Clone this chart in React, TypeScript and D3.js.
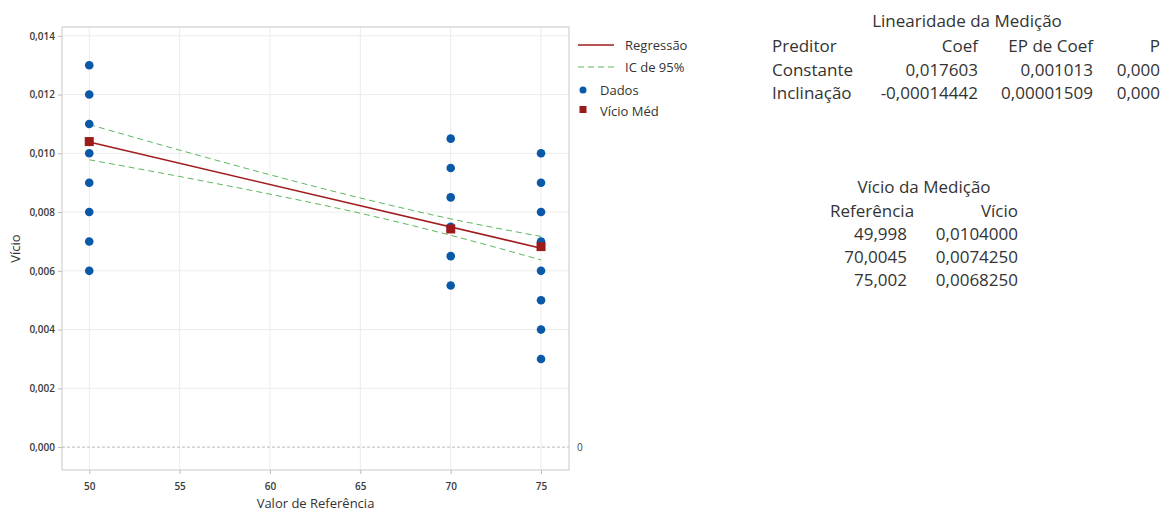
import React, { useEffect, useRef } from 'react';
import * as d3 from 'd3';

// data
const refValues = [49.998, 70.0045, 75.002];
const bias50 = [0.013, 0.012, 0.011, 0.010, 0.009, 0.008, 0.007, 0.006];
const bias70 = [0.0105, 0.0095, 0.0085, 0.0075, 0.0065, 0.0055];
const bias75 = [0.010, 0.009, 0.008, 0.007, 0.006, 0.005, 0.004, 0.003];
const meanBias = [0.0104, 0.007425, 0.006825];
const coefConst = 0.017603;
const coefSlope = -0.00014442;
const ciX = [50, 55, 60, 65, 70, 75];
const ciUpper = [0.01098, 0.01011, 0.00927, 0.00848, 0.00777, 0.00717];
const ciLower = [0.00978, 0.00921, 0.00861, 0.00796, 0.00721, 0.00637];
const xTicks = [50, 55, 60, 65, 70, 75];
const yTicks = [0, 0.002, 0.004, 0.006, 0.008, 0.010, 0.012, 0.014];

const linHeader = ['Preditor', 'Coef', 'EP de Coef', 'P'];
const linRows = [
  ['Constante', '0,017603', '0,001013', '0,000'],
  ['Inclinação', '-0,00014442', '0,00001509', '0,000'],
];
const biasHeader = ['Referência', 'Vício'];
const biasRows = [
  ['49,998', '0,0104000'],
  ['70,0045', '0,0074250'],
  ['75,002', '0,0068250'],
];

const FONT = '"Open Sans", "Noto Sans", sans-serif';

export default function App() {
  const ref = useRef<SVGSVGElement>(null);

  useEffect(() => {
    document.body.style.margin = '0';
    const svg = d3.select(ref.current);
    svg.selectAll('*').remove();

    const locale = d3.formatLocale({ decimal: ',', thousands: '.', grouping: [3], currency: ['', ''] });
    const fmtY = locale.format('.3f');

    // plot frame
    const left = 62, right = 569, top = 27, bottom = 470;

    const x = d3.scaleLinear().domain([48.49, 76.55]).range([left, right]);
    const y = d3.scaleLinear().domain([-0.00078, 0.0143]).range([bottom, top]);

    const graph = svg.append('g');

    // grid
    graph.selectAll('.vgrid').data(xTicks).enter().append('line')
      .attr('x1', d => x(d)).attr('x2', d => x(d))
      .attr('y1', top).attr('y2', bottom)
      .attr('stroke', '#ececec').attr('stroke-width', 1);
    graph.selectAll('.hgrid').data(yTicks.filter(d => d > 0)).enter().append('line')
      .attr('x1', left).attr('x2', right)
      .attr('y1', d => y(d)).attr('y2', d => y(d))
      .attr('stroke', '#ececec').attr('stroke-width', 1);

    // zero reference line
    graph.append('line')
      .attr('x1', left).attr('x2', right)
      .attr('y1', y(0)).attr('y2', y(0))
      .attr('stroke', '#b8b8b8').attr('stroke-dasharray', '3,2');
    graph.append('text')
      .attr('x', right + 8).attr('y', y(0) + 3.5)
      .attr('font-family', FONT).attr('font-size', 10).attr('fill', '#444')
      .text('0');

    // frame
    graph.append('rect')
      .attr('x', left).attr('y', top)
      .attr('width', right - left).attr('height', bottom - top)
      .attr('fill', 'none').attr('stroke', '#c8c8c8');

    // axes
    const xAxis = d3.axisBottom(x).tickValues(xTicks).tickSize(4).tickFormat(d3.format('d'));
    const yAxis = d3.axisLeft(y).tickValues(yTicks).tickSize(4).tickFormat(d => fmtY(d as number));
    const xg = graph.append('g').attr('transform', `translate(0,${bottom})`).call(xAxis);
    const yg = graph.append('g').attr('transform', `translate(${left},0)`).call(yAxis);
    [xg, yg].forEach(g => {
      g.select('.domain').remove();
      g.selectAll('line').attr('stroke', '#bbb');
      g.selectAll('text')
        .attr('font-family', FONT).attr('font-size', 10).attr('font-weight', 600).attr('fill', '#3a3a3a');
    });
    xg.selectAll('text').attr('dy', '1.3em');

    svg.append('text')
      .attr('x', (left + right) / 2).attr('y', 508)
      .attr('text-anchor', 'middle')
      .attr('font-family', FONT).attr('font-size', 13).attr('fill', '#333')
      .text('Valor de Referência');
    svg.append('text')
      .attr('transform', `translate(20,${(top + bottom) / 2}) rotate(-90)`)
      .attr('text-anchor', 'middle')
      .attr('font-family', FONT).attr('font-size', 13).attr('fill', '#333')
      .text('Vício');

    // CI dashed lines
    const ciLine = d3.line<number>().x((d, i) => x(ciX[i])).y(d => y(d)).curve(d3.curveMonotoneX);
    [ciUpper, ciLower].forEach(arr => {
      graph.append('path').attr('d', ciLine(arr))
        .attr('fill', 'none').attr('stroke', '#5cb85c').attr('stroke-width', 1)
        .attr('stroke-dasharray', '6,4');
    });

    // regression
    const x0 = refValues[0], x1 = refValues[refValues.length - 1];
    graph.append('line')
      .attr('x1', x(x0)).attr('y1', y(coefConst + coefSlope * x0))
      .attr('x2', x(x1)).attr('y2', y(coefConst + coefSlope * x1))
      .attr('stroke', '#a11d1d').attr('stroke-width', 1.6);

    // points
    const pts: [number, number][] = [];
    bias50.forEach(v => pts.push([refValues[0], v]));
    bias70.forEach(v => pts.push([refValues[1], v]));
    bias75.forEach(v => pts.push([refValues[2], v]));
    graph.selectAll('circle').data(pts).enter().append('circle')
      .attr('cx', d => x(d[0])).attr('cy', d => y(d[1]))
      .attr('r', 4.3).attr('fill', '#0a58a8');

    // mean bias squares
    graph.selectAll('.mean').data(meanBias).enter().append('rect')
      .attr('x', (d, i) => x(refValues[i]) - 4.5)
      .attr('y', d => y(d) - 4.5)
      .attr('width', 9).attr('height', 9).attr('fill', '#9c1a1a');

    // legend
    const lg = svg.append('g').attr('font-family', FONT).attr('font-size', 13).attr('fill', '#333');
    lg.append('line').attr('x1', 578).attr('x2', 614).attr('y1', 45).attr('y2', 45)
      .attr('stroke', '#a11d1d').attr('stroke-width', 1.6);
    lg.append('text').attr('x', 625).attr('y', 50).text('Regressão');
    lg.append('line').attr('x1', 578).attr('x2', 614).attr('y1', 67).attr('y2', 67)
      .attr('stroke', '#5cb85c').attr('stroke-dasharray', '6,4');
    lg.append('text').attr('x', 625).attr('y', 72).text('IC de 95%');
    lg.append('circle').attr('cx', 583).attr('cy', 90).attr('r', 3.5).attr('fill', '#0a58a8');
    lg.append('text').attr('x', 600).attr('y', 95).text('Dados');
    lg.append('rect').attr('x', 579.5).attr('y', 106).attr('width', 7).attr('height', 7).attr('fill', '#9c1a1a');
    lg.append('text').attr('x', 600).attr('y', 116).text('Vício Méd');

    // linearity table
    const t1 = svg.append('g').attr('font-family', FONT).attr('font-size', 17).attr('fill', '#333');
    t1.append('text').attr('x', 967).attr('y', 27).attr('text-anchor', 'middle').text('Linearidade da Medição');
    const colX1 = [772, 978, 1093, 1160];
    [linHeader, ...linRows].forEach((row, r) => {
      row.forEach((cell, c) => {
        t1.append('text')
          .attr('x', colX1[c]).attr('y', 52 + r * 23.5)
          .attr('text-anchor', c === 0 ? 'start' : 'end')
          .text(cell);
      });
    });

    // bias table
    const t2 = svg.append('g').attr('font-family', FONT).attr('font-size', 17).attr('fill', '#333');
    t2.append('text').attr('x', 924).attr('y', 193).attr('text-anchor', 'middle').text('Vício da Medição');
    t2.append('text').attr('x', 830).attr('y', 217).text(biasHeader[0]);
    t2.append('text').attr('x', 1018).attr('y', 217).attr('text-anchor', 'end').text(biasHeader[1]);
    biasRows.forEach((row, r) => {
      t2.append('text').attr('x', 907).attr('y', 240 + r * 23).attr('text-anchor', 'end').text(row[0]);
      t2.append('text').attr('x', 1018).attr('y', 240 + r * 23).attr('text-anchor', 'end').text(row[1]);
    });
  }, []);

  return <svg ref={ref} width={1171} height={512} style={{ display: 'block', background: '#fff' }} />;
}
